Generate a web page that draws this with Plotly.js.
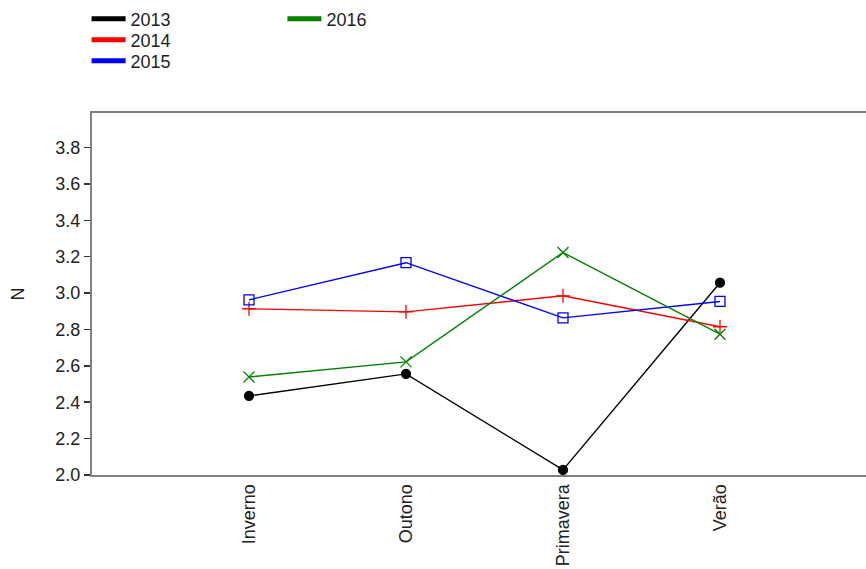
<!DOCTYPE html>
<html>
<head>
<meta charset="utf-8">
<script src="https://cdn.plot.ly/plotly-3.0.1.min.js"></script>
<style>html,body{margin:0;padding:0;overflow:hidden;background:#fff;}</style>
</head>
<body>
<div id="chart" style="width:866px;height:569px;"></div>
<script>
const seasons = ["Inverno", "Outono", "Primavera", "Verão"];
const years = ["2013", "2014", "2015", "2016"];
const v2013 = [2.435, 2.556, 2.028, 3.057];
const v2014 = [2.914, 2.897, 2.985, 2.815];
const v2015 = [2.963, 3.167, 2.864, 2.954];
const v2016 = [2.539, 2.622, 3.223, 2.774];
const seriesValues = [v2013, v2014, v2015, v2016];
const colors = ["#000000", "#ff0000", "#0000ff", "#008000"];
const symbols = ["circle", "cross-thin-open", "square-open", "x-thin-open"];
const markerSizes = [9, 10, 10, 11];

const xIdx = seasons.map((s, i) => i);
const legendIds = ["legend", "legend2", "legend3", "legend4"];
const traces = [];
seriesValues.forEach((vals, k) => {
  traces.push({
    x: xIdx, y: vals, type: "scatter", mode: "lines+markers",
    line: {color: colors[k], width: 1.4},
    marker: {symbol: symbols[k], size: markerSizes[k], color: colors[k], line: {color: colors[k], width: 1.3}},
    showlegend: false, hoverinfo: "skip"
  });
});
seriesValues.forEach((vals, k) => {
  traces.push({
    x: [null], y: [null], type: "scatter", mode: "lines", name: years[k],
    line: {color: colors[k], width: 5},
    showlegend: true, legend: legendIds[k]
  });
});

const font = {family: "Liberation Sans, Arial, sans-serif", size: 18, color: "#222"};
const lfont = {family: "Liberation Sans, Arial, sans-serif", size: 18, color: "#222"};
function leg(xp, yp) {
  return {x: xp, xanchor: "left", y: yp, yanchor: "middle", orientation: "v",
    bgcolor: "rgba(0,0,0,0)", font: lfont, itemwidth: 34};
}
const layout = {
  width: 866, height: 569,
  margin: {l: 92, r: 0, t: 113, b: 94},
  paper_bgcolor: "#fff", plot_bgcolor: "#fff",
  font: font,
  xaxis: {
    range: [-1, 3.93], tickmode: "array", tickvals: xIdx, ticktext: seasons,
    tickangle: -90, ticks: "", showgrid: false, zeroline: false,
    showline: true, mirror: true, linecolor: "#808080", linewidth: 2,
    tickfont: font
  },
  yaxis: {
    range: [2.0, 3.99], dtick: 0.2, tick0: 2.0, tickformat: ".1f",
    ticks: "outside", ticklen: 6, tickwidth: 1.5, tickcolor: "#333",
    showgrid: false, zeroline: false,
    showline: true, linecolor: "#808080", linewidth: 2,
    title: {text: "N", font: font, standoff: 26},
    tickfont: font
  },
  legend: leg(-0.007, 1.2597),
  legend2: leg(-0.007, 1.2017),
  legend3: leg(-0.007, 1.1436),
  legend4: leg(0.246, 1.2597),
  showlegend: true
};
Plotly.newPlot("chart", traces, layout, {displayModeBar: false, staticPlot: true});
</script>
</body>
</html>
